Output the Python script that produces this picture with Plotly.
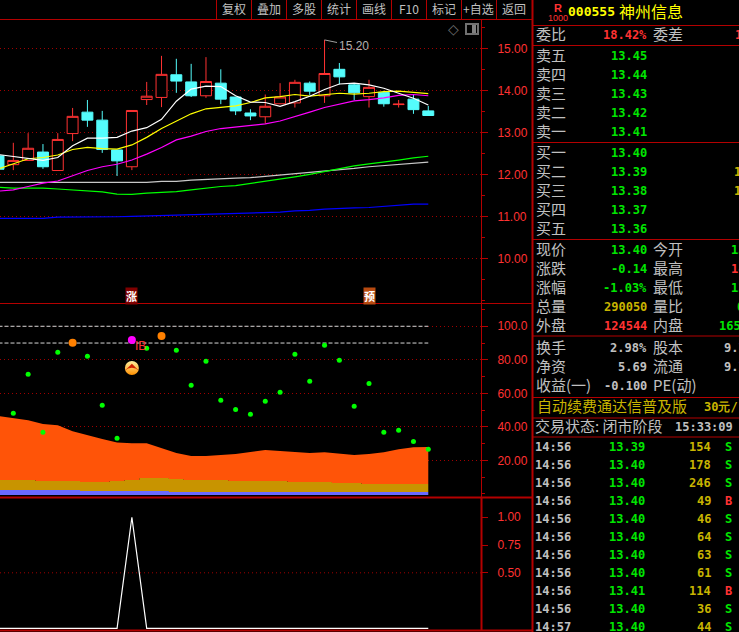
import plotly.graph_objects as go

# daily candles, last 30 bars on screen
OPEN = [12.44, 12.23, 12.33, 12.53, 12.09, 12.97, 13.48, 13.29, 12.58, 12.18, 13.78, 13.83, 14.37, 14.20, 13.87,
        14.17, 13.84, 13.46, 13.37, 13.68, 13.70, 14.17, 13.87, 14.50, 14.13, 13.85, 13.95, 13.66, 13.79, 13.51]
CLOSE = [12.12, 12.33, 12.62, 12.18, 12.83, 13.38, 13.29, 12.59, 12.32, 13.52, 13.86, 14.38, 14.22, 13.87, 14.21,
         13.79, 13.51, 13.39, 13.62, 13.84, 14.19, 13.98, 14.40, 14.32, 13.94, 14.07, 13.68, 13.67, 13.54, 13.40]
HIGH = [12.45, 12.75, 12.98, 12.72, 12.98, 13.58, 13.77, 13.51, 12.58, 13.52, 14.20, 14.82, 14.75, 14.63, 14.79,
        14.50, 13.84, 13.55, 13.90, 14.17, 14.25, 14.21, 15.20, 14.65, 14.17, 14.25, 13.99, 13.77, 13.89, 13.63]
LOW = [12.10, 12.10, 12.33, 12.13, 12.09, 12.79, 13.13, 12.51, 11.96, 12.10, 13.65, 13.60, 13.94, 13.84, 13.82,
       13.67, 13.41, 13.29, 13.21, 13.67, 13.59, 13.89, 13.70, 14.14, 13.77, 13.59, 13.61, 13.59, 13.44, 13.39]

MA_WHITE = [12.47, 12.42, 12.38, 12.33, 12.40, 12.68, 12.86, 12.86, 12.88, 13.03, 13.11, 13.31, 13.74, 14.03, 14.10,
            14.09, 13.87, 13.72, 13.71, 13.62, 13.73, 13.86, 14.02, 14.15, 14.17, 14.13, 14.05, 13.93, 13.81, 13.65]
MA_YELLOW = [12.13, 12.25, 12.37, 12.40, 12.46, 12.59, 12.64, 12.61, 12.60, 12.70, 12.88, 13.09, 13.27, 13.44, 13.56,
             13.59, 13.63, 13.71, 13.82, 13.85, 13.90, 13.86, 13.90, 13.93, 13.91, 13.93, 13.97, 13.98, 13.95, 13.92]
MA_MAGENTA = [11.60, 11.63, 11.71, 11.79, 11.84, 11.96, 12.09, 12.18, 12.24, 12.34, 12.48, 12.64, 12.82, 12.91, 13.02,
              13.09, 13.13, 13.16, 13.20, 13.27, 13.37, 13.48, 13.59, 13.67, 13.75, 13.78, 13.82, 13.88, 13.90, 13.87]
MA_GREEN = [11.69, 11.67, 11.67, 11.67, 11.65, 11.63, 11.61, 11.58, 11.53, 11.52, 11.55, 11.57, 11.59, 11.63, 11.67,
            11.71, 11.73, 11.78, 11.83, 11.88, 11.94, 12.00, 12.07, 12.13, 12.20, 12.25, 12.29, 12.34, 12.39, 12.43]
MA_GRAY = [11.81, 11.81, 11.81, 11.81, 11.81, 11.81, 11.81, 11.81, 11.81, 11.81, 11.81, 11.83, 11.83, 11.86, 11.88,
           11.89, 11.91, 11.92, 11.95, 11.98, 12.02, 12.04, 12.07, 12.11, 12.14, 12.18, 12.21, 12.24, 12.26, 12.29]
MA_BLUE = [10.95, 10.95, 10.95, 10.95, 10.98, 10.98, 10.98, 10.98, 10.99, 11.00, 11.01, 11.02, 11.02, 11.03, 11.05,
           11.06, 11.06, 11.07, 11.09, 11.10, 11.13, 11.14, 11.17, 11.19, 11.20, 11.21, 11.24, 11.26, 11.29, 11.29]

# middle panel
DOTS = [None, 48.1, 71.3, 36.7, 84.5, 90.2, 82.1, 52.8, 33.1, 91.8, 86.9, 94.2, 85.7, 64.8, 79.1,
        55.8, 50.4, 47.5, 55.2, 60.6, 83.3, 67.2, 88.7, 79.7, 52.2, 65.8, 36.7, 37.9, 31.3, 26.6]
ORANGE_DOTS = [5, 11]
MAGENTA_DOTS = [9]
AREA_ORANGE = [46.5, 45.3, 43.9, 41.7, 40.9, 37.3, 34.9, 32.7, 30.7, 30.2, 30.2, 27.2, 24.4, 22.6, 22.6,
               23.2, 23.8, 25.0, 26.2, 25.6, 24.8, 24.4, 24.8, 23.8, 23.2, 23.8, 24.8, 26.6, 27.8, 28.0]
AREA_GOLD = [8.3, 8.3, 8.3, 7.7, 7.7, 7.7, 7.1, 7.1, 7.7, 8.3, 9.4, 9.4, 8.9, 8.3, 8.3,
             8.3, 7.7, 7.7, 7.7, 7.7, 7.1, 7.1, 7.1, 6.5, 6.5, 5.9, 5.9, 5.9, 5.9, 5.9]
AREA_BLUE = [2.3, 2.3, 2.3, 2.3, 2.3, 2.3, 1.7, 1.7, 1.7, 1.7, 1.7, 1.7, 1.1, 1.1, 1.1,
             1.1, 1.1, 1.1, 1.1, 1.1, 1.1, 1.1, 1.1, 1.1, 1.1, 1.1, 1.1, 1.1, 1.1, 1.1]
AREA_BASE = -0.7
LEVELS = [100, 90]
SIGNAL_BAR = 9
SIGNAL_VALUE = 75.1

# bottom panel
SPIKE = [0, 0, 0, 0, 0, 0, 0, 0, 0, 1, 0, 0, 0, 0, 0, 0, 0, 0, 0, 0, 0, 0, 0, 0, 0, 0, 0, 0, 0, 0]

PRICE_TICKS = [15, 14, 13, 12, 11, 10]
PRICE_LABELS = ['15.00', '14.00', '13.00', '12.00', '11.00', '10.00']
MID_TICKS = [100, 80, 60, 40, 20]
MID_LABELS = ['100.0', '80.00', '60.00', '40.00', '20.00']
LOW_TICKS = [1, 0.75, 0.5]
LOW_LABELS = ['1.00', '0.75', '0.50']

TOOLBAR = ['复权', '叠加', '多股', '统计', '画线', 'F10', '标记', '+自选', '返回']

ASK_LABELS = ['卖五', '卖四', '卖三', '卖二', '卖一']
ASK_PRICES = ['13.45', '13.44', '13.43', '13.42', '13.41']
BID_LABELS = ['买一', '买二', '买三', '买四', '买五']
BID_PRICES = ['13.40', '13.39', '13.38', '13.37', '13.36']

STAT_LABELS = ['现价', '涨跌', '涨幅', '总量', '外盘']
STAT_VALUES = ['13.40', '-0.14', '-1.03%', '290050', '124544']
STAT_LABELS2 = ['今开', '最高', '最低', '量比', '内盘']
STAT_VALUES2 = ['13', '14', '13', '0', '165506']
INFO_LABELS = ['换手', '净资', '收益(一)']
INFO_VALUES = ['2.98%', '5.69', '-0.100']
INFO_LABELS2 = ['股本', '流通', 'PE(动)']
INFO_VALUES2 = ['9.7', '9.7', '']

TICK_TIMES = ['14:56'] * 10 + ['14:57']
TICK_PRICES = ['13.39', '13.40', '13.40', '13.40', '13.40', '13.40', '13.40', '13.40', '13.41', '13.40', '13.40']
TICK_VOLS = ['154', '178', '246', '49', '46', '64', '63', '61', '114', '36', '44']
TICK_SIDES = ['S', 'S', 'S', 'B', 'S', 'S', 'S', 'S', 'B', 'S', 'S']

W, H = 739, 632
RED = '#FF3232'
LINE_RED = '#B40000'
GRID_RED = '#A00000'
CYAN = '#54FCFC'
GREEN = '#00E600'
GOLD = '#C8B400'
YELLOW = '#FFFF00'
GRAY = '#C0C0C0'
CJK = 'Noto Sans CJK SC'
MONO = 'DejaVu Sans Mono'

bars = list(range(len(OPEN)))


def xp(px):
    return px / W


def yp(px):
    return 1 - px / H


annotations = []
shapes = []


def label(x, y, text, color=GRAY, size=15, anchor='left', font=CJK):
    # Noto CJK sits a little low in its line box
    if font == CJK:
        y -= 1.5
    annotations.append(dict(xref='paper', yref='paper', x=xp(x), y=yp(y), text=text, showarrow=False,
                            xanchor=anchor, yanchor='middle', borderpad=0,
                            font=dict(family=font, size=size, color=color)))


def num(x, y, text, color, anchor='right', size=12):
    label(x, y, '<b>' + text + '</b>', color, size, anchor, MONO)


def rule(x0, y0, x1, y1, width=1, color=LINE_RED):
    shapes.append(dict(type='line', xref='paper', yref='paper', x0=xp(x0), y0=yp(y0), x1=xp(x1), y1=yp(y1),
                       line=dict(color=color, width=width)))


fig = go.Figure()

# top panel
fig.add_trace(go.Candlestick(x=bars, open=OPEN, high=HIGH, low=LOW, close=CLOSE, xaxis='x', yaxis='y',
                             increasing=dict(line=dict(color=RED, width=1), fillcolor='#000000'),
                             decreasing=dict(line=dict(color=CYAN, width=1), fillcolor=CYAN),
                             whiskerwidth=0))
for vals, color in [(MA_GRAY, '#C8C8C8'), (MA_GREEN, '#00FF00'), (MA_BLUE, '#0000FF'),
                    (MA_MAGENTA, '#FF00FF'), (MA_YELLOW, '#FFFF00'), (MA_WHITE, '#FFFFFF')]:
    fig.add_trace(go.Scatter(x=bars, y=vals, mode='lines', line=dict(color=color, width=1.2), xaxis='x', yaxis='y'))

# middle panel, stacked bands drawn from the base up
fig.add_trace(go.Scatter(x=bars, y=[AREA_BASE] * len(bars), mode='lines', line=dict(width=0), xaxis='x2', yaxis='y2'))
fig.add_trace(go.Scatter(x=bars, y=AREA_BLUE, mode='lines', line=dict(width=0, shape='hvh'), fill='tonexty',
                         fillcolor='#6A6AFF', xaxis='x2', yaxis='y2'))
fig.add_trace(go.Scatter(x=bars, y=AREA_GOLD, mode='lines', line=dict(width=0, shape='hvh'), fill='tonexty',
                         fillcolor='#C89400', xaxis='x2', yaxis='y2'))
fig.add_trace(go.Scatter(x=bars, y=AREA_ORANGE, mode='lines', line=dict(width=0), fill='tonexty',
                         fillcolor='#FF5408', xaxis='x2', yaxis='y2'))

for lvl in LEVELS:
    # black underlay so the grid dots do not show through the dash gaps
    fig.add_trace(go.Scatter(x=bars, y=[lvl] * len(bars), mode='lines', line=dict(color='#000000', width=1),
                             xaxis='x2', yaxis='y2'))
    fig.add_trace(go.Scatter(x=bars, y=[lvl] * len(bars), mode='lines',
                             line=dict(color='#D8D8D8', width=1, dash='4px,2px'), xaxis='x2', yaxis='y2'))

special = ORANGE_DOTS + MAGENTA_DOTS
green_x = [i for i in bars if DOTS[i] is not None and i not in special]
fig.add_trace(go.Scatter(x=green_x, y=[DOTS[i] for i in green_x], mode='markers',
                         marker=dict(color='#00FF00', size=5), xaxis='x2', yaxis='y2'))
fig.add_trace(go.Scatter(x=ORANGE_DOTS, y=[DOTS[i] for i in ORANGE_DOTS], mode='markers',
                         marker=dict(color='#FF8000', size=8), xaxis='x2', yaxis='y2'))
fig.add_trace(go.Scatter(x=MAGENTA_DOTS, y=[DOTS[i] for i in MAGENTA_DOTS], mode='markers',
                         marker=dict(color='#FF00FF', size=8), xaxis='x2', yaxis='y2'))
fig.add_trace(go.Scatter(x=[SIGNAL_BAR], y=[SIGNAL_VALUE], mode='markers',
                         marker=dict(color='#FFF0A0', size=14, line=dict(width=0),
                                     gradient=dict(type='vertical', color='#FF9000')), xaxis='x2', yaxis='y2'))
fig.add_trace(go.Scatter(x=[SIGNAL_BAR], y=[SIGNAL_VALUE + 2.6], mode='markers',
                         marker=dict(color='#D02000', size=10, symbol='arrow-wide', line=dict(width=0)),
                         xaxis='x2', yaxis='y2'))

# bottom panel
fig.add_trace(go.Scatter(x=bars, y=SPIKE, mode='lines', line=dict(color='#FFFFFF', width=1.2), xaxis='x3', yaxis='y3'))

# x: bar 0 sits at -1.5px, bars 14.82px apart, chart area ends at 481px
xrange = [1.5 / 14.82, (481 + 1.5) / 14.82]
xdom = [0, xp(481)]
xcommon = dict(visible=False, range=xrange, domain=xdom, fixedrange=True, rangeslider=dict(visible=False))
ycommon = dict(side='right', showline=True, linecolor=LINE_RED, linewidth=1, ticks='outside', ticklen=6, tickcolor=LINE_RED,
               tickfont=dict(family='Liberation Sans', size=12, color=RED), showgrid=True, griddash='1px,3px',
               gridcolor=GRID_RED, gridwidth=1, zeroline=False, ticklabelstandoff=7, fixedrange=True)

fig.update_layout(
    width=W, height=H, margin=dict(l=0, r=0, t=0, b=0), autosize=False,
    paper_bgcolor='#000000', plot_bgcolor='#000000', showlegend=False, hovermode=False,
    boxgap=0.1, boxgroupgap=0.18,
    xaxis=dict(xcommon, anchor='y'), xaxis2=dict(xcommon, anchor='y2'), xaxis3=dict(xcommon, anchor='y3'),
    yaxis=dict(ycommon, anchor='x', domain=[yp(303.5), yp(20)], range=[8.924, 15.674],
               tickvals=PRICE_TICKS, ticktext=PRICE_LABELS,
               minor=dict(dtick=0.5, ticklen=3, ticks='outside', tickcolor=LINE_RED, showgrid=False)),
    yaxis2=dict(ycommon, anchor='x2', domain=[yp(497.5), yp(303.5)], range=[-2.2, 113.6],
                tickvals=MID_TICKS, ticktext=MID_LABELS,
                minor=dict(dtick=10, ticklen=3, ticks='outside', tickcolor=LINE_RED, showgrid=False)),
    yaxis3=dict(ycommon, anchor='x3', domain=[yp(630), yp(497.5)], range=[-0.015, 1.178],
                tickvals=LOW_TICKS, ticktext=LOW_LABELS, showgrid=False),
)

# the bottom panel only has a dotted line at 0.50
shapes.append(dict(type='line', xref='x3 domain', yref='y3', x0=0, x1=1, y0=0.5, y1=0.5, layer='below',
                   line=dict(color=GRID_RED, width=1, dash='1px,3px')))

# frame
rule(0, 19.5, 532, 19.5)
rule(0, 303.5, 532, 303.5)
rule(0, 497.5, 532, 497.5, 2)
rule(0, 630.5, 532, 630.5, 2)
rule(481.5, 497, 481.5, 631, 2)
rule(532.5, 0, 532.5, H, 2)
for y in [25.5, 45.5, 142.5, 239.5, 336, 397.5, 418, 437]:
    rule(533, y, W, y)

# toolbar
for i, txt in enumerate(TOOLBAR):
    left = 216.5 + i * 35
    rule(left, 0, left, 19)
    label(left + 17, 10.5, txt, GRAY, 12, 'center')

# top right chart icons
label(453, 29, '◇', '#707070', 14, 'center', 'DejaVu Sans')
shapes.append(dict(type='rect', xref='paper', yref='paper', x0=xp(466), x1=xp(478), y0=yp(34), y1=yp(24),
                   line=dict(color='#707070', width=2), fillcolor='#000000'))
shapes.append(dict(type='rect', xref='paper', yref='paper', x0=xp(472), x1=xp(476), y0=yp(33), y1=yp(25),
                   line=dict(width=0), fillcolor='#808080'))

# high price flag
annotations.append(dict(xref='x', yref='y', x=22, y=15.20, text='15.20', showarrow=True, arrowhead=0, arrowwidth=1,
                        arrowcolor='#A0A0A0', ax=29, ay=6, standoff=0,
                        font=dict(family='Liberation Sans', size=12, color='#B0B0B0')))

# badges on the panel border
annotations.append(dict(xref='x', yref='paper', x=9, y=yp(296), text='<b>涨</b>', showarrow=False, bgcolor='#800000',
                        font=dict(family=CJK, size=11, color='#FFFFFF'), borderpad=0))
annotations.append(dict(xref='x', yref='paper', x=25, y=yp(296), text='<b>预</b>', showarrow=False, bgcolor='#B84A10',
                        font=dict(family=CJK, size=11, color='#FFFFFF'), borderpad=0))
label(140.5, 345.5, 'IB', RED, 12, 'center', 'Liberation Sans')

# quote header
label(558, 8, '<b>R</b>', RED, 11, 'center', 'Liberation Sans')
label(558, 17.5, '1000', RED, 9, 'center', 'Liberation Sans')
label(566.5, 12, '<b>000555</b>', YELLOW, 13, 'left', MONO)
label(618, 13, '神州信息', YELLOW, 16)

label(535, 35, '委比')
num(648, 35, '18.42%', RED)
label(652, 35, '委差')
num(734, 35, '1', RED, 'left')

for i in range(5):
    label(535, 56 + i * 19, ASK_LABELS[i])
    num(648, 56 + i * 19, ASK_PRICES[i], GREEN)
    label(535, 153 + i * 19, BID_LABELS[i])
    num(648, 153 + i * 19, BID_PRICES[i], GREEN)
num(733, 172, '1', GOLD, 'left')
num(733, 191, '1', GOLD, 'left')

stat_colors = [GREEN, GREEN, GREEN, GOLD, RED]
stat_colors2 = [GREEN, RED, GREEN, GREEN, GREEN]
stat_x2 = [730, 730, 730, 736, 718]
for i in range(5):
    y = 250 + i * 19
    label(535, y, STAT_LABELS[i])
    num(648, y, STAT_VALUES[i], stat_colors[i])
    label(652, y, STAT_LABELS2[i])
    num(stat_x2[i], y, STAT_VALUES2[i], stat_colors2[i], 'left')

for i in range(3):
    y = 347.5 + i * 19
    label(535, y, INFO_LABELS[i])
    num(648, y, INFO_VALUES[i], GRAY)
    label(652, y, INFO_LABELS2[i])
    if INFO_VALUES2[i]:
        num(722.5, y, INFO_VALUES2[i], GRAY, 'left')

label(536, 407, '自动续费通达信普及版', GOLD, 15)
num(702.5, 407, '30元/', GOLD, 'left')
label(534, 427, '交易状态: 闭市阶段', GRAY, 15)
num(674, 427, '15:33:09', GRAY, 'left')

for i in range(len(TICK_TIMES)):
    y = 447 + i * 18
    num(534, y, TICK_TIMES[i], GRAY, 'left')
    num(645.5, y, TICK_PRICES[i], GREEN)
    num(712, y, TICK_VOLS[i], GOLD)
    num(728, y, TICK_SIDES[i], GREEN if TICK_SIDES[i] == 'S' else RED, 'center')

fig.update_layout(annotations=annotations, shapes=shapes)

fig.write_html("out.html", config=dict(displayModeBar=False),
               post_script="document.body.style.margin='0';document.body.style.background='#000';")
